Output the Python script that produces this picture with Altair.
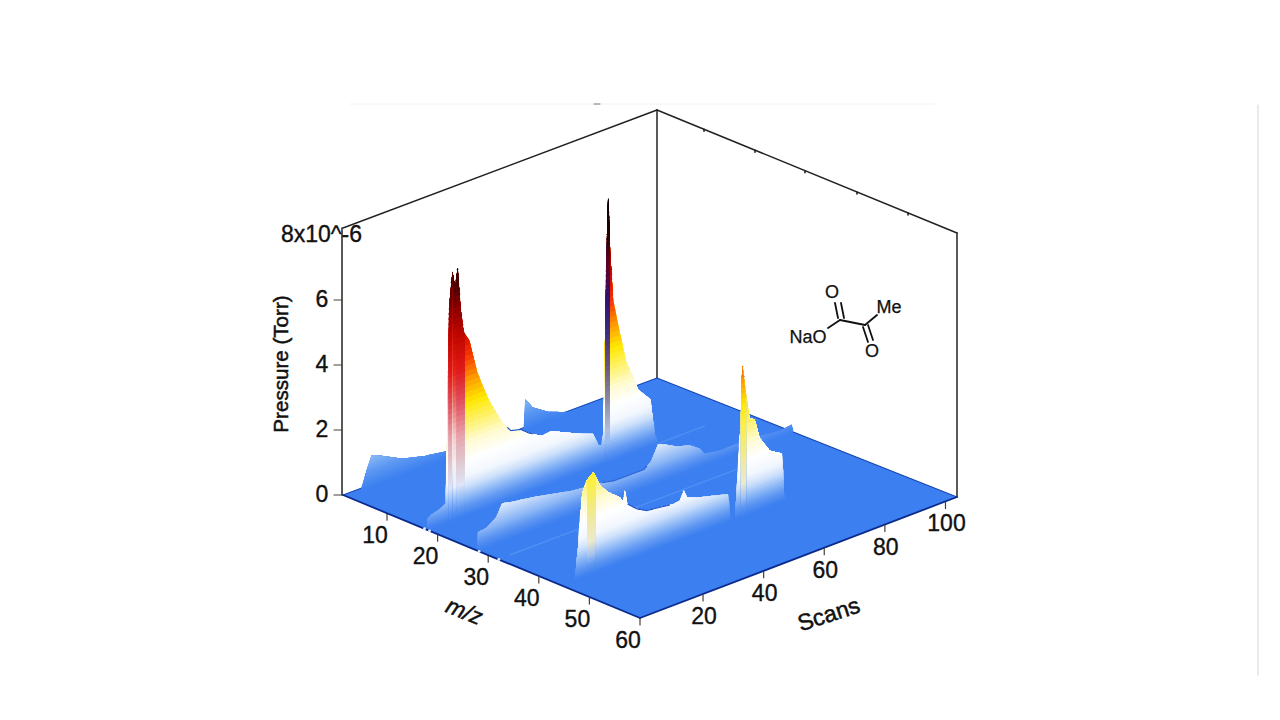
import altair as alt
import numpy as np
import pandas as pd

# ---------- values ----------
MZ_TICKS = [10, 20, 30, 40, 50, 60]
SCAN_TICKS = [20, 40, 60, 80, 100]
P_TICKS = [0, 2, 4, 6]
P_TOP_LABEL = "8x10^-6"

# m/z ~ 2 (pressure in 1e-6 Torr against scan number)
H2_MZ = 2
H2_SCANS = [4.5, 5.4, 6.7, 8.4, 10.4, 18.6, 25.9, 33, 40, 59, 59.7, 62, 67, 72, 76]
H2_PRESS = [0, 0.2, 0.57, 0.97, 0.9, 0.52, 0.35, 0.25, 0.05, 0.05, 0.92, 0.6, 0.3, 0.12, 0]

# m/z ~ 18
W_MZ = 18
W_SCANS = [-0.3, 0, 1, 4, 6, 6.3, 6.7, 7, 7.4, 8.3, 9.2, 10, 11, 12, 13.9, 14.9, 16.5, 18.2,
           20.5, 22.8, 25, 27.7, 31, 33.7, 38, 41, 45.9, 50, 55, 56.8, 57.8, 58.3, 58.6, 59.2,
           59.7, 60, 60.7, 61.7, 64, 66, 70, 74, 75.6, 77]
W_PRESS = [0, 0.35, 0.42, 0.5, 0.6, 1.9, 3.0, 5.5, 6.75, 7.6, 7.08, 7.65, 6.37, 5.63, 5.3, 4.9,
           4.25, 3.8, 3.24, 2.8, 2.4, 2.08, 2.0, 1.8, 1.56, 1.6, 1.4, 1.22, 1.04, 0.64, 0.6, 0.9,
           1.9, 4.9, 7.0, 8.06, 6.4, 4.85, 3.76, 2.86, 1.87, 1.44, 0.3, 0]

# m/z ~ 28
N_MZ = 28
N_SCANS = [-0.3, 0, 2.6, 6, 8, 10.2, 20, 31, 40.6, 45, 55, 57.4, 59.7, 62, 66, 70, 73.5, 75, 80,
           85, 90, 100, 104, 104.6]
N_PRESS = [0, 0.58, 0.61, 0.82, 1.18, 1.13, 0.98, 0.76, 0.67, 0.58, 0.58, 0.75, 1.19, 1.1, 0.9,
           0.8, 0.58, 0.37, 0.29, 0.3, 0.3, 0.2, 0.25, 0]

# m/z ~ 44, first and second release
C_MZ = 44.4
C1_SCANS = [4.5, 5.6, 7, 8.5, 10.7, 12.9, 15.6, 19.5, 20.6, 21.1, 21.9, 25, 28.3, 32.7, 37, 39.3,
            40.6, 41.7, 44.8, 50.2, 55.2, 56, 57]
C1_PRESS = [0, 0.96, 2.57, 2.91, 3.08, 2.6, 2.3, 2.0, 1.82, 2.16, 1.72, 1.46, 1.29, 1.24, 1.18,
            1.21, 1.47, 1.22, 1.11, 0.98, 0.85, 0.1, 0]
C2_SCANS = [57.5, 58.4, 59.4, 60, 61, 62.4, 64, 65.7, 69, 73, 73.8, 74.5]
C2_PRESS = [0, 1.23, 2.9, 4.6, 3.8, 2.9, 2.84, 2.2, 1.7, 1.47, 0.2, 0]

# scan ranges with differently shaded faces on the peaks
STREAK1A = [7.0, 8.4]
STREAK1B = [9.6, 12.4]
STREAK1C = [8.4, 9.6]
STREAK2 = [59.1, 60.6]
STREAK3 = [8.6, 11.4]
STREAK4 = [59.5, 61.2]

# faint ridges on the floor
FAINT_RIDGES = [(32, 4, 88), (18, 76, 92)]
EDGE_SPECKS = [17.4, 18.4, 28.2, 32.1]

# dark fringes on ridge crests
FRINGE_W = [26.5, 35]
FRINGE_N = [41, 56]
FRINGE_C = [22, 36]

# structure
LABELS_CHEM = ["O", "Me", "NaO", "O"]

# ---------- page geometry ----------
LEFT, FRONT, BACK, RIGHT = (343, 495), (640, 618), (657, 378), (957, 497)
Z_PX = 32.75
TICK_PX = 32.5
SCAN_TICK_SHIFT = 0.8


def px(m, s):
    u = (np.asarray(m, float) - 1.3) / 58.7
    v = np.asarray(s, float) / 104.6
    return LEFT[0] + (FRONT[0] - LEFT[0]) * u + (BACK[0] - LEFT[0]) * v + 3 * u * v


def py(m, s, p=0.0):
    u = (np.asarray(m, float) - 1.3) / 58.7
    v = np.asarray(s, float) / 104.6
    return LEFT[1] + (FRONT[1] - LEFT[1]) * u + (BACK[1] - LEFT[1]) * v - 4 * u * v - Z_PX * np.asarray(p, float)


MAIN = [(0, "#3b7ff0"), (0.3, "#6098f2"), (0.6, "#94bcf7"), (0.9, "#cfe1fb"), (1.2, "#f2f7fe"),
        (1.7, "#ffffff"), (2.2, "#fffbd0"), (2.8, "#fff26a"), (3.4, "#ffe800"), (4.1, "#ff9a00"),
        (4.8, "#f53a00"), (5.5, "#d80a00"), (6.3, "#a00000"), (7.0, "#500000"), (8.1, "#000000")]
BLUE = [(0, "#3b7ff0"), (0.5, "#5c98f2"), (1.0, "#8fbcf7")]
PALE = [(0, "#3b7ff0"), (0.3, "#5c94f2"), (0.6, "#8cb6f6"), (1.0, "#c4dafa"), (1.2, "#e2edfd")]
PINK = [(0, "#3b7ff0"), (0.3, "#6098f2"), (0.6, "#94bcf7"), (1.0, "#dfe4f6"), (1.7, "#e0c8d0"),
        (2.5, "#e8a0a8"), (3.5, "#e05060"), (4.5, "#e01818"), (5.5, "#c00800"), (6.3, "#900000"),
        (7.0, "#500000"), (8.1, "#000000")]
ROSE = [(0, "#3b7ff0"), (0.3, "#6098f2"), (0.6, "#94bcf7"), (1.0, "#e8eefa"), (1.7, "#f6eeee"),
        (2.5, "#f4ccc8"), (3.5, "#ea7060"), (4.5, "#e82010"), (5.5, "#c80800"), (6.3, "#900000"),
        (7.0, "#500000"), (8.1, "#000000")]
DARK = [(0, "#3b7ff0"), (0.3, "#6098f2"), (0.6, "#94bcf7"), (1.0, "#b4bcdc"), (2.0, "#85859f"),
        (3.0, "#625284"), (4.0, "#3a2a80"), (5.0, "#301070"), (6.0, "#600020"), (7.0, "#200000"),
        (8.1, "#000000")]
TAN = [(0, "#3b7ff0"), (0.3, "#6098f2"), (0.6, "#a8c4ee"), (1.0, "#ece9cc"), (1.6, "#efe9a8"),
       (2.2, "#f4ec70"), (2.8, "#fff040"), (3.4, "#ffe800"), (4.1, "#ff9a00"), (4.8, "#f53a00")]
LEVELS = np.r_[np.arange(0, 2, 0.08), np.arange(2, 8.2, 0.16)]


def shade(pal, z):
    zs = [a for a, _ in pal]
    rgb = np.array([[int(c[i:i + 2], 16) for i in (1, 3, 5)] for _, c in pal], float)
    return "#%02x%02x%02x" % tuple(int(round(np.interp(z, zs, rgb[:, k]))) for k in range(3))


def curtain(name, m, scans, press, pal, lo=None, hi=None):
    lo = scans[0] if lo is None else lo
    hi = scans[-1] if hi is None else hi
    n = int(round((hi - lo) / 0.4)) + 1
    grid = np.union1d(np.linspace(lo, hi, n), [s for s in scans if lo <= s <= hi])
    top = np.interp(grid, scans, press)
    rows = []
    for k, z in enumerate(LEVELS):
        on = top > z
        if not on.any():
            break
        keep = on | np.r_[on[1:], False] | np.r_[False, on[:-1]]
        for s, t in zip(grid[keep], top[keep]):
            rows.append({"x": round(float(px(m, s)), 2),
                         "y": round(float(py(m, s, max(t, z))), 2),
                         "y2": round(float(py(m, s, z)), 2),
                         "g": f"{name}{k:03d}",
                         "c": shade(pal, z + 0.04)})
    return pd.DataFrame(rows)


SX = alt.Scale(domain=[8, 1272], range=[0, 1264], nice=False, zero=False)
SY = alt.Scale(domain=[8, 712], range=[0, 704], nice=False, zero=False)
X = lambda f: alt.X(f, type="quantitative", scale=SX, axis=None, title=None)
Y = lambda f: alt.Y(f, type="quantitative", scale=SY, axis=None, title=None)


def area_layer(df):
    return alt.Chart(df).mark_area(interpolate="linear", stroke=None).encode(
        x=X("x"), y=Y("y"), y2="y2", color=alt.Color("c:N", scale=None, legend=None), detail="g:N")


def seg_layer(rows, color, width, opacity=1.0):
    return alt.Chart(pd.DataFrame(rows, columns=["x", "y", "x2", "y2"])).mark_rule(
        color=color, strokeWidth=width, opacity=opacity, strokeCap="round").encode(
        x=X("x"), y=Y("y"), x2="x2", y2="y2")


def crest(m, scans, press, span, color="#1b4fc4"):
    grid = np.union1d(np.linspace(span[0], span[1], 40), [s for s in scans if span[0] <= s <= span[1]])
    top = np.interp(grid, scans, press)
    return alt.Chart(pd.DataFrame({"x": px(m, grid), "y": py(m, grid, top)})).mark_line(
        color=color, strokeWidth=1.1).encode(x=X("x"), y=Y("y"))


def text_layer(rows, size=21, style=None, sw=0.25):
    df = pd.DataFrame(rows, columns=["x", "y", "t", "a"])
    layers = []
    for a, sub in df.groupby("a"):
        kw = dict(font="Liberation Sans", fontSize=size, color="#111111", align="center",
                  baseline="middle", angle=float(a), stroke="#111111", strokeWidth=sw)
        if style:
            kw["fontStyle"] = style
        layers.append(alt.Chart(sub).mark_text(**kw).encode(x=X("x"), y=Y("y"), text="t:N"))
    return layers


fx = [LEFT[0], FRONT[0], BACK[0], RIGHT[0]]
floor = pd.DataFrame({
    "x": fx,
    "y": [LEFT[1], np.interp(FRONT[0], [LEFT[0], BACK[0]], [LEFT[1], BACK[1]]), BACK[1], RIGHT[1]],
    "y2": [LEFT[1], FRONT[1], np.interp(BACK[0], [FRONT[0], RIGHT[0]], [FRONT[1], RIGHT[1]]), RIGHT[1]],
})
floor_layer = alt.Chart(floor).mark_area(color="#3b7ff0", interpolate="linear").encode(
    x=X("x"), y=Y("y"), y2="y2")

frame = seg_layer([
    (343, 228, 657, 110), (657, 110, 957, 233), (342, 228, 342, 495), (657, 110, 657, 378),
    (957, 233, 957, 497)], "#222222", 1.5)
edges = seg_layer([(343, 495, 640, 618), (640, 618, 957, 497)], "#0a2a8c", 1.8)
back_edges = seg_layer([(343, 495, 657, 378), (657, 378, 957, 497)], "#1546b4", 1.1)

tick_rows = []
for m in MZ_TICKS:
    x, y = float(px(m, 0)), float(py(m, 0))
    tick_rows.append((x, y + 1, x, y + 7))
for s in SCAN_TICKS:
    x, y = float(px(60, s + SCAN_TICK_SHIFT)), float(py(60, s + SCAN_TICK_SHIFT))
    tick_rows.append((x, y + 1, x, y + 7))
for p in P_TICKS:
    y = 495 - TICK_PX * p
    tick_rows.append((334, y, 342, y))
ticks = seg_layer(tick_rows, "#4a4030", 1.2)
wall_ticks = seg_layer([(x, 110 + (x - 657) * 0.41, x, 112 + (x - 657) * 0.41) for x in (704, 755, 805, 857, 908)],
                       "#222222", 1.6)

labels = []
for m in MZ_TICKS:
    labels.append((float(px(m, 0)) - 12, float(py(m, 0)) + 23, str(m), 0))
for s in SCAN_TICKS:
    labels.append((float(px(60, s + SCAN_TICK_SHIFT)) + 1, float(py(60, s + SCAN_TICK_SHIFT)) + 23, str(s), 0))
for p in P_TICKS:
    labels.append((322, 495 - TICK_PX * p, str(p), 0))
labels.append((321.5, 235, P_TOP_LABEL, 0))

titles = [(282, 364, "Pressure (Torr)", 270)]
scans_title = [(829, 615, "Scans", 342)]
mz_title = [(464, 612, "m/z", 22)]

chem_bonds = seg_layer([
    (828, 328, 840, 320), (840, 320, 865, 325), (865, 325, 877, 315),
    (835, 303, 838, 318), (841, 303, 844, 318),
    (863, 327, 868, 342), (868, 325, 873, 340)], "#111111", 1.8)
chem_text = [(832, 293, LABELS_CHEM[0], 0), (889, 308, LABELS_CHEM[1], 0),
             (808, 338, LABELS_CHEM[2], 0), (872, 352, LABELS_CHEM[3], 0)]

faint = seg_layer(
    [(float(px(m, a)), float(py(m, a)), float(px(m, b)), float(py(m, b))) for m, a, b in FAINT_RIDGES],
    "#5a95f4", 1.4, 0.7)
specks = alt.Chart(pd.DataFrame({"x": px(np.array(EDGE_SPECKS), 0), "y": py(np.array(EDGE_SPECKS), 0)})).mark_circle(
    color="#e8f2ff", size=8, opacity=1).encode(x=X("x"), y=Y("y"))

crop_line = seg_layer([(1258, 105, 1258, 675)], "#dcdcdc", 1.2)
top_speck = seg_layer([(350, 104, 935, 104)], "#f2f2f2", 1)
top_dot = seg_layer([(594, 104, 600, 104)], "#777777", 1)

layers = [
    crop_line, top_speck, top_dot,
    frame, floor_layer, back_edges, faint,
    area_layer(curtain("a", H2_MZ, H2_SCANS, H2_PRESS, BLUE)),
    area_layer(curtain("b", W_MZ, W_SCANS, W_PRESS, MAIN)),
    area_layer(curtain("s", W_MZ, W_SCANS, W_PRESS, PINK, STREAK1A[0], STREAK1A[1])),
    area_layer(curtain("u", W_MZ, W_SCANS, W_PRESS, ROSE, STREAK1C[0], STREAK1C[1])),
    area_layer(curtain("v", W_MZ, W_SCANS, W_PRESS, PINK, STREAK1B[0], STREAK1B[1])),
    area_layer(curtain("t", W_MZ, W_SCANS, W_PRESS, DARK, STREAK2[0], STREAK2[1])),
    crest(W_MZ, W_SCANS, W_PRESS, FRINGE_W),
    area_layer(curtain("c", N_MZ, N_SCANS, N_PRESS, PALE)),
    crest(N_MZ, N_SCANS, N_PRESS, FRINGE_N, "#2a62d8"),
    area_layer(curtain("d", C_MZ, C1_SCANS, C1_PRESS, MAIN)),
    area_layer(curtain("w", C_MZ, C1_SCANS, C1_PRESS, TAN, STREAK3[0], STREAK3[1])),
    crest(C_MZ, C1_SCANS, C1_PRESS, FRINGE_C),
    area_layer(curtain("e", C_MZ, C2_SCANS, C2_PRESS, MAIN)),
    area_layer(curtain("x", C_MZ, C2_SCANS, C2_PRESS, TAN, STREAK4[0], STREAK4[1])),
    edges, specks, ticks, wall_ticks, chem_bonds,
]
layers += text_layer(labels, size=23, sw=0.35)
layers += text_layer(titles, size=20.6, sw=0.55)
layers += text_layer(scans_title, size=23, sw=0.5)
layers += text_layer(mz_title, size=23, style="italic", sw=0.5)
layers += text_layer(chem_text, size=18, sw=0.25)

chart = alt.layer(*layers).properties(
    width=1264, height=704, padding=0, background="#ffffff",
    autosize=alt.AutoSizeParams(type="none"),
).configure_view(stroke=None)

chart.save("out.html", embed_options={"renderer": "svg", "actions": False})
